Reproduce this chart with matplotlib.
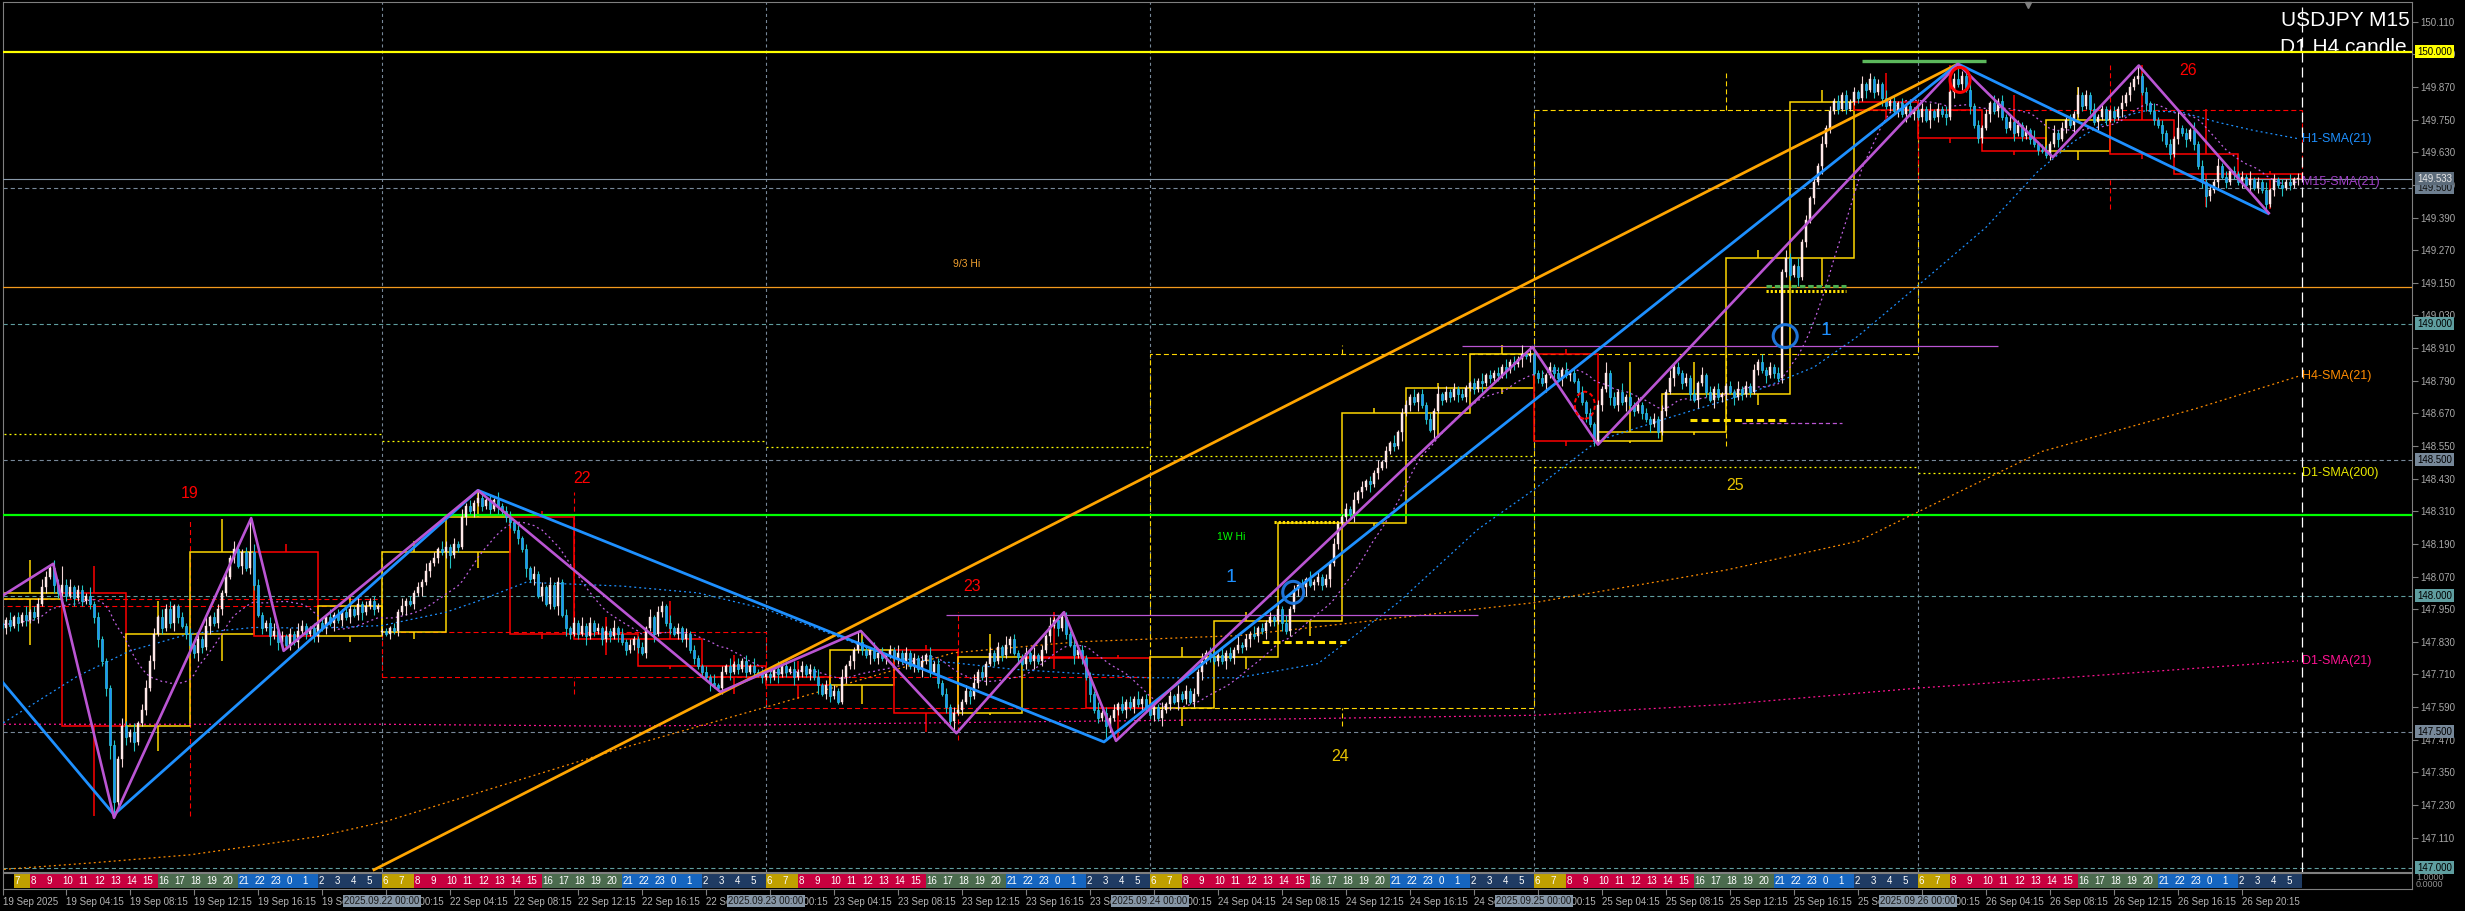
import numpy as np
import pandas as pd
import matplotlib
matplotlib.use("Agg")
import matplotlib.pyplot as plt
from matplotlib.patches import Rectangle, Ellipse

plt.rcParams["font.family"] = ["Liberation Sans", "DejaVu Sans"]
plt.rcParams["lines.scale_dashes"] = False

W, H = 2465, 911
BASE = 147.0   # all chart values below are pips (0.01) above 147.000

# ---- USDJPY M15 closes, one row per H4 block (16 bars) ----
c19 = [90, 88, 91, 89, 92, 90, 93, 91, 94, 92, 97, 103, 107, 110, 104, 101,
       104, 100, 103, 99, 102, 98, 100, 97, 92, 84, 76, 66, 45, 24, 40, 52,
       48, 50, 46, 53, 58, 66, 76, 86, 92, 88, 95, 90, 96, 92, 89, 86,
       82, 79, 84, 81, 89, 92, 90, 95, 101, 107, 114, 117, 111, 116, 110, 116,
       104, 93, 88, 90, 85, 87, 83, 85, 82, 86, 83, 87, 89, 86, 88, 85,
       90, 88, 92, 90, 93, 91, 94, 92, 95, 93, 97, 94, 96, 98, 95, 96.3]
c22 = [87, 86, 88, 87, 94, 96, 98, 97, 101, 103, 105, 109, 112, 114, 117, 116,
       118, 115, 119, 118, 129, 133, 131, 134, 136, 133, 135, 132, 135, 133, 131, 129,
       127, 124, 121, 117, 110, 106, 108, 100, 103, 97, 104, 96, 105, 93, 88, 86,
       90, 86, 89, 85, 90, 87, 88, 84, 87, 85, 88, 86, 83, 80, 82, 84,
       81, 79, 88, 92, 86, 94, 96, 90, 88, 86, 88, 84, 86, 80, 77, 74,
       72, 70, 68, 67, 66, 72, 74, 72, 75, 73, 76, 72, 74, 72, 71, 70]
c23 = [71, 70, 73, 71, 74, 72, 73, 70, 72, 74, 71, 73, 70, 67, 64, 67,
       63, 65, 61, 70, 74, 76, 80, 83, 80, 78, 80, 77, 79, 77, 78, 80,
       77, 79, 76, 79, 74, 77, 73, 76, 78, 72, 75, 68, 64, 59, 54, 57,
       58, 61, 65, 63, 68, 72, 70, 75, 79, 76, 81, 78, 82, 84, 79, 77.5,
       75, 79, 76, 78, 76, 80, 85, 89, 91, 88, 92, 86, 82, 78, 80, 77,
       70, 64, 58, 55, 57, 52, 55, 58, 60, 58, 61, 59, 62, 60, 62, 58.5]
c24 = [56, 59, 55, 58, 60, 63, 61, 64, 62, 65, 61, 64, 72, 76, 79, 77.5,
       76, 78, 76, 79, 77, 80, 82, 81, 84, 86, 85, 88, 87, 90, 92, 90.7,
       95, 90, 87, 95, 102, 104, 103, 106, 104, 105, 107, 104, 106, 112, 119, 126.6,
       129, 132, 130, 135, 138, 140, 142, 141, 145, 147, 149, 153, 156, 155, 160, 167,
       170, 173, 171, 174, 170, 165, 161, 168, 174, 172, 175, 173, 176, 174, 173, 176.4,
       178, 176, 179, 178, 181, 180, 182, 181, 184, 183, 186, 185, 187, 189, 188, 188.7]
c25 = [182, 180, 178, 181, 184, 182, 180, 183, 181, 182, 179, 175, 171, 167, 163, 157,
       170, 176, 182, 173, 170, 175, 171, 173, 170, 168, 170, 167, 165, 163, 165, 160,
       168, 175, 180, 184, 182, 178, 180, 174, 172, 178, 181, 175, 172, 176, 173, 174,
       177, 175, 173, 176, 174, 177, 175, 183, 186, 183, 181, 184, 182, 180, 219, 224,
       218, 221, 217, 230, 238, 246, 252, 258, 266, 272, 278, 282, 279, 284, 279, 281.4,
       285, 283, 288, 286, 290, 285, 288, 283, 280, 282, 278, 281, 277, 280, 277, 278.6]
c26 = [276, 279, 275, 278, 276, 279, 277, 276, 285, 290, 288, 291, 286, 280, 273, 268.3,
       272, 277, 281, 278, 282, 276, 272, 274, 270, 273, 269, 271, 268, 266, 264, 263.6,
       262, 266, 270, 268, 272, 275, 273, 277, 284, 280, 284, 279, 274, 276, 279, 275,
       278, 276, 279, 281, 284, 287, 290, 291, 285, 281, 278, 275, 273, 270, 266, 262.4,
       268, 272, 270, 268, 271, 266, 258, 252, 247, 249, 252, 258, 254, 252, 256, 255,
       252, 254, 251, 253, 250, 252, 249, 244, 249, 253, 251, 250, 252, 251, 253, 253.3]
open_19 = 98.8
open_22 = 86.5          # Monday gap

# upper / lower wick length in pips, one base-36 char per bar
up19 = "0213121312232132 7231221312111213 2131232213231121 212131221213212c 3211231212132112 1213121221312121"
dn19 = "8122131211212132 1213121223235523 3231121312123212 3232131221121312 2121313212131212 2121312121231121"
up22 = "1112131212131213 2121312122121312 2121213121312121 2131212121312121 1213122131212121 1213121312121312"
dn22 = "1121213121312121 2512131212121312 2121312121213132 1213121212131212 2121312121213121 2131121312121212"
up23 = "1213121312121312 1213121412131212 1312121213121212 2121312121213121 1213121312221312 1213121213121312"
dn23 = "1213121312121312 2111213121312121 1213121312121224 1213121312121312 1213121213121312 1312152121312121"
up24 = "1213121312121312 2131213121312121 2131212131212121 1213121213121312 2131212131212121 1213121213121313"
dn24 = "1213121312121312 1213121213121312 1312121312121312 1213121312121213 1213121312121312 1213121213121312"
up25 = "2131212131212121 2141213121312121 2131212121312121 1213121213121213 2131212131212121 2131212131212121"
dn25 = "1213121312121312 1213121312121312 1213121213121312 2131212121312122 2131212131212121 1213121312121312"
up26 = "1213121312521312 1213121312121312 2131212131212121 1213121412131212 1712131212131212 1213121312121312"
dn26 = "1213121312121312 2131212131212121 1213121312121312 1213121213121312 1213121242131212 1213121212131212"

days = ["19", "22", "23", "24", "25", "26"]

# indicator lines (bar index, pips)
h1_x = [0, 20, 33, 48, 64, 80, 96, 112, 120, 132, 156, 175, 192, 208, 224, 239, 254, 287, 310,
        330, 350, 370, 384, 400, 419, 439, 454, 465, 480, 497, 510, 519, 528, 537, 546, 555, 564, 575]
h1_y = [52, 70.5, 79.7, 86, 88.3, 88, 89, 93.9, 98, 104.9, 103.5, 101, 95, 86, 77, 75.3, 72.9, 69.8, 69.8,
        75, 97.4, 124.4, 139, 157, 166, 175, 184, 195.4, 214, 235.4, 256, 267, 275, 278.3, 277.7, 274, 271, 268]
h4_x = [0, 24, 48, 80, 97, 155, 192, 239, 270, 310, 384, 432, 465, 511, 550, 575]
h4_y = [-0.8, 1.8, 4.7, 11.4, 17, 43.5, 59, 79, 83, 85.3, 97.4, 109.4, 120, 153, 169, 180.6]
d200_by_day = [159.3, 157, 154.5, 151.3, 147.3, 145.2]
d21_x = [0, 96, 155, 192, 250, 310, 384, 432, 480, 528, 575]
d21_y = [52.7, 52.7, 52, 52.5, 53.5, 54.4, 56, 60, 66, 71, 76]

# zigzags and trend line (bar index, pips)
zz_blue_x = [0.5, 29, 120, 276.5, 490, 567.5]
zz_blue_y = [69.3, 19.5, 138.7, 46.2, 295.5, 240.5]
zz_mag_x = [0.5, 13.8, 29, 63.3, 71.4, 120, 180.6, 215.7, 239.6, 266.5, 279.5, 383.6, 400, 490, 513.7, 535.2, 567.7]
zz_mag_y = [99.4, 111.7, 18.3, 128.5, 79.7, 138.7, 64.6, 87, 49.4, 93.9, 46.6, 191.4, 155.5, 295.5, 261.2, 294.9, 240.6]
trend_x = [94, 490]
trend_y = [-0.8, 295.5]

# horizontal levels (price)
hi_150 = 150.000
hi_93 = 149.135
hi_1w = 148.295
last_price = 149.533
round_lv = [149.0, 148.0, 147.0]
half_lv = [149.5, 148.5, 147.5]

# short marker segments: (x0, x1, pips)
vio_solid = [(237, 370, 93.0), (366, 500, 191.7)]
vio_dash = [(436, 461, 163.3)]
yel_dash = [(316, 337, 82.8), (423, 447, 164.5)]
yel_dot = [(319, 335, 126.9), (442, 462, 211.9)]
grn_dash = [(442, 462, 213.8)]
grn_top = [(466, 497, 296.4)]

# circles: (bar, pips, width px, height px)
blue_circ = [(323.8, 101.2, 21, 22), (446.8, 195.4, 24, 23)]
red_circ_dash = [(396.7, 170.0, 20, 27)]
red_circ = [(490.5, 289.6, 20, 25)]

# text annotations (bar, pips)
day_lbl = ["19", "22", "23", "24", "25", "26"]
day_lbl_x = [48, 146, 243.5, 335.5, 434.25, 547.5]
day_lbl_y = [137.4, 143.1, 103.2, 40.7, 140.5, 293]
day_lbl_c = ["#FF0000", "#FF0000", "#FF0000", "#E6C200", "#E6C200", "#FF0000"]
one_x = [308.25, 457]
one_y = [106.7, 197.6]

# session colours by JST hour
sess = (["#1565C0"] * 2 + ["#1F3B63"] * 4 + ["#C0A000"] * 2 + ["#C8003F"] * 8 +
        ["#4B6B4E"] * 5 + ["#1565C0"] * 3)
jst_offset = 6
shift_bar = 507.5


def pr(v):
    return BASE + np.asarray(v, dtype=float) / 100.0


def wicks(parts):
    s = "".join(parts).replace(" ", "")
    return np.array([int(ch, 36) for ch in s], dtype=float)


closes = np.array(c19 + c22 + c23 + c24 + c25 + c26, dtype=float)
n = len(closes)
opens = np.r_[open_19, closes[:-1]]
opens[96] = open_22
up = wicks([up19, up22, up23, up24, up25, up26])
dn = wicks([dn19, dn22, dn23, dn24, dn25, dn26])
highs = np.maximum(opens, closes) + up
lows = np.minimum(opens, closes) - dn
O, C, Hh, L = pr(opens), pr(closes), pr(highs), pr(lows)
x = np.arange(n)

fig = plt.figure(figsize=(W / 100, H / 100), dpi=100, facecolor="black")
ax = fig.add_axes([3 / W, 1 - 871.5 / H, 2409 / W, 869.5 / H], facecolor="black")
hax = fig.add_axes([3 / W, 1 - 889 / H, 2409 / W, 16 / H], facecolor="black")
ylo, yhi = 146.9857, 150.1824
ax.set_ylim(ylo, yhi)
ax.set_xlim(1.25, 603.5)
hax.set_xlim(1.25, 603.5)
hax.set_ylim(0, 1)

GRAY = "#7f7f7f"
for a in (ax, hax):
    for sp in a.spines.values():
        sp.set_color(GRAY)
        sp.set_linewidth(0.8)

# round-number levels and day separators
for lv in round_lv:
    ax.axhline(lv, color="#5F9EA0", lw=0.8, ls=(0, (3, 2.2)), zorder=1.5)
for lv in half_lv:
    ax.axhline(lv, color="#778899", lw=0.8, ls=(0, (3, 2.2)), zorder=1.5)
for d in range(1, len(days)):
    ax.axvline(96 * d, color="#778899", lw=0.8, ls=(0, (2.2, 2.2)), zorder=1.4)

ax.axhline(hi_93, color="#F39A1E", lw=0.9, zorder=3)
ax.axhline(hi_1w, color="#00FF00", lw=1.6, zorder=3)
ax.axhline(last_price, color="#8A9AAA", lw=0.8, zorder=3)
ax.axhline(hi_150, color="#FFFF00", lw=1.6, zorder=6)
ax.axvline(n, color="white", lw=0.9, ls=(0, (7.2, 3.6)), zorder=3)

YEL, RED = "#FFD700", "#FF0000"


def candle_box(x0, width, o, c, h, l, col, lw, ls):
    ax.add_patch(Rectangle((x0, min(o, c)), width, abs(c - o), fill=False, ec=col,
                           lw=lw, ls=ls, zorder=2))
    xm = x0 + width / 2
    ax.vlines([xm, xm], [max(o, c), l], [h, min(o, c)], color=col, lw=lw, ls=ls, zorder=2)


# D1 candles (dashed)
for d in range(len(days)):
    s = slice(96 * d, 96 * d + 96)
    o, c = O[96 * d], C[96 * d + 95]
    candle_box(96 * d, 96, o, c, Hh[s].max(), L[s].min(),
               YEL if c >= o else RED, 0.8, (0, (3.6, 2.2)))
# H4 candles (solid)
for k in range(n // 16):
    s = slice(16 * k, 16 * k + 16)
    o, c = O[16 * k], C[16 * k + 15]
    candle_box(16 * k, 16, o, c, Hh[s].max(), L[s].min(),
               YEL if c >= o else RED, 1.1, "-")

# moving averages
m15 = pd.Series(C).rolling(21, min_periods=1).mean().to_numpy()
SMA_LS = (0, (1.4, 2.2))
ax.plot(x, m15, color="#C060E0", lw=0.9, ls=SMA_LS, zorder=3)
ax.plot(h1_x, pr(h1_y), color="#1E90FF", lw=0.9, ls=SMA_LS, zorder=3)
ax.plot(h4_x, pr(h4_y), color="#FF8C00", lw=0.9, ls=SMA_LS, zorder=3)
ax.plot(d21_x, pr(d21_y), color="#FF1493", lw=0.9, ls=SMA_LS, zorder=3)
for d, v in enumerate(d200_by_day):
    ax.hlines(pr(v), 96 * d, min(96 * d + 96, n - 1), color="#FFFF00", lw=0.9, ls=SMA_LS, zorder=3)

sma_labels = [("H1-SMA(21)", pr(h1_y[-1]), "#1E90FF"),
              ("M15-SMA(21)", m15[-1], "#A040C8"),
              ("H4-SMA(21)", pr(h4_y[-1]), "#FF8C00"),
              ("D1-SMA(200)", pr(d200_by_day[-1]), "#E8E800"),
              ("D1-SMA(21)", pr(d21_y[-1]), "#FF1493")]
for t, yv, col in sma_labels:
    ax.text(n, yv, t, color=col, fontsize=9, ha="left", va="center", zorder=6)

# candles
bull = C >= O
blo = np.minimum(O, C)
bh = np.maximum(np.abs(C - O), 0.004)
ax.vlines(x[bull], L[bull], Hh[bull], color="#F2D6D6", lw=0.8, zorder=4)
ax.vlines(x[~bull], L[~bull], Hh[~bull], color="#22C4C4", lw=0.8, zorder=4)
ax.bar(x[bull], bh[bull], bottom=blo[bull], width=0.62, color="#FFECEC",
       edgecolor="#FFE0E0", lw=0.3, zorder=4.1)
ax.bar(x[~bull], bh[~bull], bottom=blo[~bull], width=0.62, color="#1E90FF",
       edgecolor="#2EC8D8", lw=0.5, zorder=4.1)

# zigzags & trend line
ax.plot(trend_x, pr(trend_y), color="#FFA500", lw=2.0, zorder=5)
ax.plot(zz_blue_x, pr(zz_blue_y), color="#1E90FF", lw=2.0, zorder=5)
ax.plot(zz_mag_x, pr(zz_mag_y), color="#BA55D3", lw=1.9, zorder=5.1)

for x0, x1, v in vio_solid:
    ax.hlines(pr(v), x0, x1, color="#BA55D3", lw=0.9, zorder=3)
for x0, x1, v in vio_dash:
    ax.hlines(pr(v), x0, x1, color="#BA55D3", lw=0.9, ls=(0, (3, 2)), zorder=3)
for x0, x1, v in yel_dash:
    ax.hlines(pr(v), x0, x1, color="#FFE000", lw=2.2, ls=(0, (5, 3)), zorder=5)
for x0, x1, v in yel_dot:
    ax.hlines(pr(v), x0, x1, color="#FFE000", lw=2.2, ls=(0, (1.6, 1.4)), zorder=5)
for x0, x1, v in grn_dash:
    ax.hlines(pr(v), x0, x1, color="#4CAF50", lw=2.2, ls=(0, (4, 2)), zorder=5)
for x0, x1, v in grn_top:
    ax.hlines(pr(v), x0, x1, color="#5CB85C", lw=2.4, zorder=5)

PXY = 272.0  # pixels per 1.000 of price
for cx, cy, wpx, hpx in blue_circ:
    ax.add_patch(Ellipse((cx, pr(cy)), wpx / 4, hpx / PXY, fill=False, ec="#1E74D8", lw=2.2, zorder=6))
for cx, cy, wpx, hpx in red_circ_dash:
    ax.add_patch(Ellipse((cx, pr(cy)), wpx / 4, hpx / PXY, fill=False, ec="#FF0000", lw=1.4,
                         ls=(0, (3, 2)), zorder=6))
for cx, cy, wpx, hpx in red_circ:
    ax.add_patch(Ellipse((cx, pr(cy)), wpx / 4, hpx / PXY, fill=False, ec="#FF0000", lw=2.2, zorder=6))

for t, tx, ty, col in zip(day_lbl, day_lbl_x, day_lbl_y, day_lbl_c):
    ax.text(tx, pr(ty), t, color=col, fontsize=11.5, ha="center", va="center", zorder=6)
for tx, ty in zip(one_x, one_y):
    ax.text(tx, pr(ty), "1", color="#1E90FF", fontsize=14, ha="center", va="center", zorder=6)
ax.text(242.25, pr(221.9), "9/3 Hi", color="#F0A030", fontsize=7.5, ha="center", va="center", zorder=6)
ax.text(308.25, pr(121.6), "1W Hi", color="#00FF00", fontsize=7.5, ha="center", va="center", zorder=6)

ax.text(0.9992, 0.9724, "USDJPY M15", transform=ax.transAxes, color="white", fontsize=15,
        ha="right", va="baseline", zorder=2)
ax.text(0.9979, 0.9413, "D1 H4 candle", transform=ax.transAxes, color="white", fontsize=15,
        ha="right", va="baseline", zorder=2)
ax.plot(shift_bar, yhi - 3 / PXY, marker="v", color=GRAY, ms=5, clip_on=False, zorder=7)

# price axis
ticks = np.round(147.11 + 0.12 * np.arange(26), 3)
ax.yaxis.tick_right()
ax.set_yticks(ticks)
ax.set_yticklabels([f"{t:.3f}" for t in ticks])
ax.tick_params(axis="y", length=4, width=0.8, color=GRAY, labelcolor="#A8A8A8", labelsize=7, pad=2)
ax.set_xticks([])

tags = [(149.500, "#6E7F90", "#101010"), (last_price, "#5C6B7A", "#E8E8E8"),
        (hi_150, "#FFFF00", "#000000"), (149.000, "#5F9EA0", "#000000"),
        (148.500, "#778899", "#000000"), (148.000, "#5F9EA0", "#000000"),
        (147.500, "#778899", "#000000"), (147.000, "#5F9EA0", "#000000")]
for v, bg, fg in tags:
    ax.text(1 + 5 / 2409, v, f"{v:.3f}", transform=ax.get_yaxis_transform(), color=fg,
            fontsize=7, ha="left", va="center", clip_on=False, zorder=8,
            bbox=dict(boxstyle="square,pad=0.18", fc=bg, ec="none"))

# hour bar
for s0 in range(4, n, 4):
    h = ((s0 % 96) // 4 + jst_offset) % 24
    hax.add_patch(Rectangle((s0, 0.06), 4, 0.88, fc=sess[h], ec="none", zorder=1))
    hax.text(s0 + 0.2, 0.5, str(h), color="white", fontsize=7, ha="left", va="center",
             zorder=2, clip_on=True)
hax.set_yticks([])
hax.text(1 + 4 / 2409, 0.72, "1.0000", transform=hax.transAxes, color="#909090", fontsize=6.5, va="center")
hax.text(1 + 4 / 2409, 0.3, "0.0000", transform=hax.transAxes, color="#909090", fontsize=6.5, va="center")

tick_i = [1.25] + list(range(17, n, 16))
tick_t = ["19 Sep 2025"] + [f"{days[i // 96]} Sep {(i % 96) * 15 // 60:02d}:{(i % 96) * 15 % 60:02d}"
                           for i in range(17, n, 16)]
hax.set_xticks(tick_i)
hax.set_xticklabels(tick_t)
hax.tick_params(axis="x", length=4, width=0.8, color=GRAY, labelcolor="#B4B4B4", labelsize=7, pad=2)
for t in hax.get_xticklabels():
    t.set_ha("left")
for d in range(1, len(days)):
    hax.text(96 * d, -0.75, f"2025.09.{days[d]} 00:00", transform=hax.get_xaxis_transform(),
             color="#1A1A1A", fontsize=7, ha="center", va="center", zorder=5, clip_on=False,
             bbox=dict(boxstyle="square,pad=0.15", fc="#8696A6", ec="none"))

fig.savefig("out.png", dpi=100, facecolor="black")
